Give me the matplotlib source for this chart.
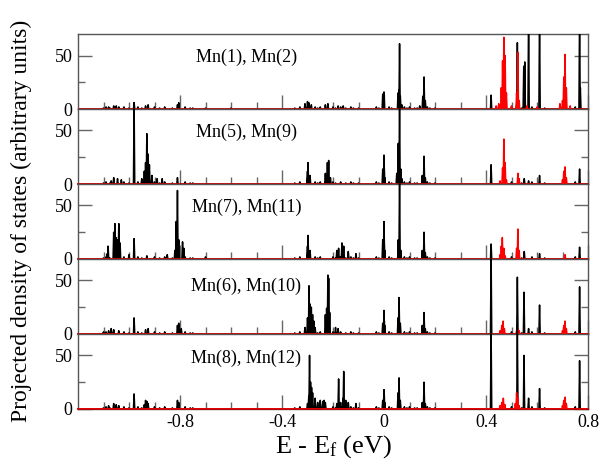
import numpy as np
import matplotlib
matplotlib.use('Agg')
import matplotlib.pyplot as plt

plt.rcParams['font.family'] = 'Liberation Serif'
plt.rcParams['mathtext.fontset'] = 'custom'
plt.rcParams['mathtext.rm'] = 'Liberation Serif'
plt.rcParams['mathtext.it'] = 'Liberation Serif:italic'
plt.rcParams['axes.unicode_minus'] = False

# Пики (положение в эВ, высота) для каждой пары атомов Mn
labels = ['Mn(1), Mn(2)', 'Mn(5), Mn(9)', 'Mn(7), Mn(11)', 'Mn(6), Mn(10)', 'Mn(8), Mn(12)']
label_y = [48, 48, 48, 44, 47]

# слабый фон, общий для всех панелей
bg_x = [-1.10, -1.09, -1.075, -1.02, -1.0, -0.965, -0.95, -0.90, -0.88, -0.86, -0.83, -0.78,
        -0.76, -0.75, -0.35, -0.33, -0.27, -0.26, -0.25, -0.20, -0.19, -0.17, -0.15, -0.13,
        -0.12, -0.10, -0.03, -0.02, 0.02, 0.03, 0.08, 0.09, 0.10, 0.12, 0.13, 0.17, 0.18,
        0.20, 0.50, 0.54, 0.58, 0.63, 0.75]
bg_h = [1, 2, 1, 2, 1, 2, 1, 2, 1, 2, 1, 2,
        1, 1, 1, 2, 2, 1, 2, 2, 1, 2, 1, 2,
        1, 1, 2, 1, 2, 1, 2, 1, 2, 1, 1, 2, 1,
        1, 2, 1, 2, 1, 2]

p1_black_x = [-1.08, -1.06, -1.05, -1.04, -0.98, -0.935, -0.925, -0.81, -0.805, -0.70, -0.60,
              -0.31, -0.30, -0.295, -0.285, -0.23, -0.22, -0.18, -0.16, -0.005, 0.0,
              0.055, 0.058, 0.061, 0.064, 0.07, 0.14, 0.152, 0.157, 0.162,
              0.42, 0.52, 0.523, 0.548, 0.552, 0.567, 0.61, 0.767, 0.77]
p1_black_h = [2, 3, 3, 2, 6, 3, 4, 4, 6, 1, 1,
              5, 7, 6, 4, 4, 5, 3, 3, 14, 16,
              15, 18, 61, 12, 4, 3, 12, 30, 8,
              13, 4, 62, 40, 44, 90, 90, 90, 20]
p1_red_x = [0.44, 0.45, 0.46, 0.465, 0.47, 0.475, 0.48, 0.50, 0.52, 0.525, 0.53, 0.56, 0.60,
            0.69, 0.70, 0.705, 0.71, 0.715, 0.73]
p1_red_h = [3, 5, 20, 45, 67, 50, 15, 3, 15, 53, 8, 3, 2,
            5, 8, 30, 51, 20, 3]

p2_black_x = [-1.07, -1.06, -1.045, -1.03, -0.98, -0.95, -0.94, -0.935, -0.93, -0.925, -0.92,
              -0.91, -0.89, -0.87, -0.81, -0.30, -0.298, -0.29, -0.23, -0.222, -0.217, -0.21,
              -0.005, 0.0, 0.003, 0.05, 0.056, 0.061, 0.066, 0.07, 0.15, 0.157, 0.162,
              0.42, 0.55, 0.567, 0.61, 0.767]
p2_black_h = [3, 6, 5, 4, 76, 5, 12, 20, 47, 28, 18,
              8, 5, 5, 6, 12, 20, 8, 10, 20, 22, 6,
              14, 27, 6, 10, 38, 76, 14, 5, 8, 26, 6,
              18, 5, 3, 8, 14]
p2_red_x = [0.455, 0.465, 0.47, 0.475, 0.48, 0.525, 0.53, 0.70, 0.705, 0.71, 0.715]
p2_red_h = [3, 15, 42, 20, 4, 10, 5, 4, 12, 16, 6]

p3_black_x = [-1.085, -1.082, -1.06, -1.055, -1.05, -1.045, -1.04, -1.035, -1.00, -0.98, -0.93,
              -0.85, -0.82, -0.815, -0.81, -0.805, -0.79, -0.785, -0.70, -0.30, -0.298, -0.29,
              -0.185, -0.178, -0.165, -0.158, -0.14, -0.11, -0.005, 0.0, 0.003,
              0.056, 0.061, 0.066, 0.15, 0.157, 0.162, 0.42, 0.55, 0.61, 0.767]
p3_black_h = [5, 12, 25, 33, 20, 18, 33, 15, 4, 19, 3,
              4, 8, 35, 64, 18, 16, 10, 2, 12, 22, 8,
              8, 10, 15, 12, 7, 5, 18, 35, 8,
              18, 78, 8, 8, 25, 6, 14, 7, 5, 11]
p3_red_x = [0.455, 0.46, 0.464, 0.47, 0.475, 0.52, 0.525, 0.53, 0.71]
p3_red_h = [4, 12, 20, 10, 3, 10, 28, 8, 4]

p4_black_x = [-1.10, -1.08, -1.07, -1.06, -1.04, -0.98, -0.935, -0.925, -0.81, -0.805, -0.795,
              -0.31, -0.30, -0.294, -0.29, -0.285, -0.28, -0.275, -0.27,
              -0.23, -0.225, -0.22, -0.217, -0.213, -0.19, -0.18,
              -0.005, 0.0, 0.003, 0.055, 0.059, 0.064, 0.15, 0.157, 0.162,
              0.42, 0.523, 0.549, 0.567, 0.61, 0.767]
p4_black_h = [2, 3, 5, 4, 3, 15, 4, 5, 8, 10, 5,
              6, 15, 45, 28, 25, 18, 12, 6,
              18, 24, 55, 52, 20, 6, 5,
              10, 22, 8, 15, 34, 10, 8, 20, 5,
              75, 53, 39, 5, 27, 44]
p4_red_x = [0.455, 0.462, 0.467, 0.472, 0.52, 0.525, 0.53, 0.70, 0.705, 0.71, 0.715]
p4_red_h = [3, 8, 12, 5, 3, 5, 3, 3, 8, 12, 5]

p5_black_x = [-1.08, -1.06, -1.05, -1.04, -0.98, -0.94, -0.935, -0.93, -0.925, -0.81, -0.805,
              -0.30, -0.295, -0.292, -0.288, -0.284, -0.28, -0.27, -0.26, -0.25, -0.24,
              -0.235, -0.23, -0.185, -0.178, -0.17, -0.16, -0.158, -0.15, -0.14, -0.11,
              -0.005, 0.0, 0.003, 0.055, 0.059, 0.064, 0.15, 0.157, 0.162,
              0.42, 0.523, 0.549, 0.567, 0.61, 0.767]
p5_black_h = [3, 5, 4, 3, 14, 4, 8, 7, 5, 8, 6,
              5, 12, 50, 25, 20, 15, 10, 6, 8, 7,
              8, 6, 5, 28, 6, 10, 35, 8, 6, 5,
              8, 18, 6, 15, 29, 8, 6, 25, 5,
              75, 75, 50, 10, 19, 45]
p5_red_x = [0.455, 0.462, 0.468, 0.474, 0.515, 0.52, 0.525, 0.53, 0.70, 0.705, 0.71, 0.715]
p5_red_h = [3, 6, 10, 4, 5, 15, 10, 3, 3, 8, 11, 5]

black_x = [p1_black_x, p2_black_x, p3_black_x, p4_black_x, p5_black_x]
black_h = [p1_black_h, p2_black_h, p3_black_h, p4_black_h, p5_black_h]
red_x = [p1_red_x, p2_red_x, p3_red_x, p4_red_x, p5_red_x]
red_h = [p1_red_h, p2_red_h, p3_red_h, p4_red_h, p5_red_h]

xmin, xmax = -1.2, 0.8


def spikes(px, ph, w=0.0025):
    # каждый пик рисуется как узкий треугольник на нулевой линии
    xs, ys = [xmin], [0]
    for c, h in sorted(zip(px, ph)):
        xs += [c - w, c, c + w]
        ys += [0, h, 0]
    xs.append(xmax)
    ys.append(0)
    return xs, ys


fig, axes = plt.subplots(5, 1, figsize=(6, 4.61), dpi=100, sharex=True,
                         gridspec_kw={'hspace': 0})
fig.subplots_adjust(left=0.13, right=0.98, top=0.926, bottom=0.113)

for i, ax in enumerate(axes):
    clip = (i == 0)
    bx, by = spikes(black_x[i] + bg_x, black_h[i] + bg_h)
    rx, ry = spikes(red_x[i], red_h[i])
    ax.plot(bx, by, color='black', lw=1.1, clip_on=clip, zorder=3)
    ax.plot(rx, ry, color='red', lw=1.1, clip_on=clip, zorder=4)
    ax.set_xlim(xmin, xmax)
    ax.set_ylim(0, 70)
    ax.set_yticks([0, 50])
    ax.set_yticks([25], minor=True)
    ax.set_xticks([-0.8, -0.4, 0, 0.4, 0.8])
    ax.set_xticks(np.arange(-1.1, 0.8, 0.1), minor=True)
    ax.set_xticklabels(['-0.8', '-0.4', '0', '0.4', '0.8'])
    ax.tick_params(which='both', direction='in', right=True, color='#666666',
                   labelsize=13, pad=4)
    ax.tick_params(which='major', length=10, width=1)
    ax.tick_params(which='minor', length=5, width=1)
    for sp in ax.spines.values():
        sp.set_color('#555555')
        sp.set_linewidth(1.0)
    ax.text(-0.54, label_y[i], labels[i], fontsize=13, ha='center', va='center')

axes[-1].set_xlabel('E - E$_\\mathrm{f}$ (eV)', fontsize=19, labelpad=1)
fig.text(0.035, 0.52, 'Projected density of states (arbitrary units)', rotation=90,
         fontsize=17, ha='center', va='center')

plt.savefig('out.png', dpi=100)
